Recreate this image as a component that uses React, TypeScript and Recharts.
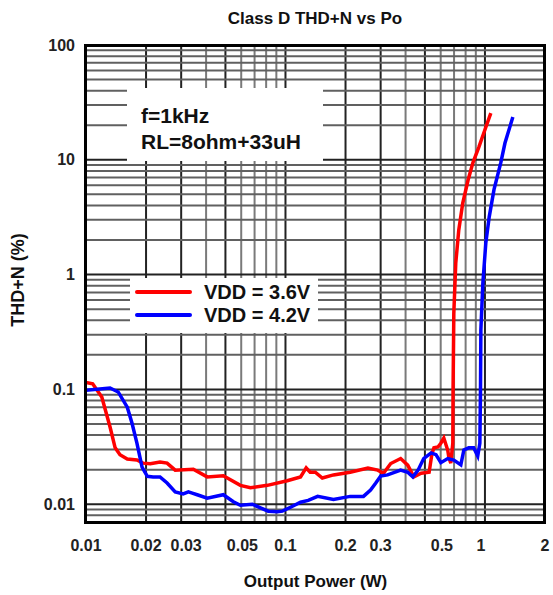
import React from 'react';
import { LineChart, Line, XAxis, YAxis, ReferenceLine, Legend } from 'recharts';

// Output power (W) / THD+N (%), VDD = 3.6V
const vdd36Power = [
  0.01, 0.0108, 0.012, 0.0132, 0.014, 0.0148, 0.0161, 0.018, 0.0193, 0.021,
  0.0235, 0.0255, 0.028, 0.0345, 0.0405, 0.0488, 0.0594, 0.0667, 0.0811, 0.102,
  0.119, 0.127, 0.133, 0.141, 0.153, 0.174, 0.211, 0.259, 0.29, 0.31,
  0.337, 0.378, 0.41, 0.44, 0.479, 0.525, 0.543, 0.555, 0.581, 0.601,
  0.622, 0.651, 0.659, 0.674, 0.69, 0.692, 0.698, 0.714, 0.739, 0.774,
  0.822, 0.87, 0.932, 1.01, 1.07,
];
const vdd36Thd = [
  0.115, 0.112, 0.086, 0.047, 0.031, 0.027, 0.0248, 0.0243, 0.0228, 0.0225,
  0.0233, 0.0228, 0.0198, 0.0202, 0.0173, 0.0177, 0.0146, 0.0139, 0.0146, 0.016,
  0.0173, 0.0207, 0.019, 0.019, 0.0169, 0.018, 0.019, 0.0207, 0.0198, 0.0186,
  0.0226, 0.025, 0.0219, 0.0173, 0.0186, 0.019, 0.0279, 0.031, 0.0315, 0.034,
  0.0377, 0.0295, 0.0256, 0.0228, 0.034, 0.1, 0.46, 1.26, 2.44, 4.2,
  6.6, 9.4, 12.9, 19.2, 25.5,
];

// VDD = 4.2V
const vdd42Power = [
  0.01, 0.0132, 0.0145, 0.0161, 0.017, 0.018, 0.0191, 0.0203, 0.0217, 0.0235,
  0.0255, 0.028, 0.0307, 0.0326, 0.0341, 0.0361, 0.0405, 0.0488, 0.0548, 0.0594,
  0.0682, 0.0749, 0.082, 0.091, 0.0965, 0.106, 0.119, 0.13, 0.145, 0.174,
  0.211, 0.246, 0.267, 0.283, 0.3, 0.325, 0.378, 0.41, 0.435, 0.462,
  0.493, 0.537, 0.568, 0.601, 0.651, 0.698, 0.757, 0.784, 0.829, 0.878,
  0.92, 0.943, 0.95, 0.954, 0.976, 1.01, 1.05, 1.11, 1.2, 1.26, 1.38,
];
const vdd42Thd = [
  0.0985, 0.103, 0.095, 0.07, 0.051, 0.034, 0.021, 0.0175, 0.0173, 0.0173,
  0.0153, 0.0128, 0.0123, 0.0128, 0.0125, 0.0121, 0.0113, 0.0121, 0.0105, 0.0098,
  0.01, 0.0093, 0.0087, 0.0086, 0.0087, 0.0094, 0.0104, 0.0108, 0.0117, 0.011,
  0.0117, 0.0117, 0.0133, 0.0152, 0.0176, 0.018, 0.0198, 0.019, 0.0173, 0.0198,
  0.025, 0.028, 0.027, 0.023, 0.025, 0.0242, 0.022, 0.0297, 0.031, 0.031,
  0.0263, 0.034, 0.1, 0.33, 0.84, 1.88, 3.17, 5.5, 9.4, 14, 23.6,
];

const xTicks = [0.01, 0.02, 0.03, 0.05, 0.1, 0.2, 0.3, 0.5, 1, 2];
const yTicks = [0.01, 0.1, 1, 10, 100];

const vdd36 = vdd36Power.map((po, i) => ({ po, thd: vdd36Thd[i] }));
const vdd42 = vdd42Power.map((po, i) => ({ po, thd: vdd42Thd[i] }));

// log grid: 1..9 in every decade
const gridValues: number[] = [];
[0.001, 0.01, 0.1, 1, 10].forEach((d) => {
  for (let m = 1; m <= 9; m++) gridValues.push(Number((m * d).toPrecision(3)));
});
gridValues.push(100);

const FONT = 'Arial, "Liberation Sans", Helvetica, sans-serif';

// the labels of 0.05 and 0.5 sit right of their grid lines in the original
const tickShift: Record<string, number> = { '0.03': 5, '0.05': 17, '0.5': 17, '1': -4 };

const XTick = (props: any) => {
  const { x, y, payload } = props;
  const dx = tickShift[String(payload.value)] ?? 0;
  return (
    <text x={x + dx} y={y} dy="0.71em" textAnchor="middle" fill="#222" fontSize={16} fontWeight="bold" fontFamily={FONT}>
      {payload.value}
    </text>
  );
};

const LegendBox = () => (
  <div style={{ width: 188, height: 55, background: '#fff', fontFamily: FONT, fontWeight: 'bold', fontSize: 20, color: '#111' }}>
    {[
      { label: 'VDD = 3.6V', color: '#ff0000' },
      { label: 'VDD = 4.2V', color: '#0000ff' },
    ].map((item, i) => (
      <div key={item.label} style={{ position: 'absolute', left: 0, top: 3 + i * 23, height: 22, display: 'flex', alignItems: 'center', whiteSpace: 'nowrap' }}>
        <svg width={70} height={22}>
          <line x1={7} y1={11} x2={60} y2={11} stroke={item.color} strokeWidth={4} strokeLinecap="round" />
        </svg>
        <span style={{ marginLeft: 4 }}>{item.label}</span>
      </div>
    ))}
  </div>
);

export default function App() {
  return (
    <div style={{ position: 'absolute', left: 0, top: 0, width: 553, height: 595, background: '#fff', fontFamily: FONT }}>
      <div style={{ position: 'absolute', left: 115, top: 9, width: 400, lineHeight: '20px', textAlign: 'center', fontSize: 17, fontWeight: 'bold', color: '#111' }}>
        Class D THD+N vs Po
      </div>
      <div style={{ position: 'absolute', left: -82, top: 270, width: 200, lineHeight: '20px', textAlign: 'center', fontSize: 18, fontWeight: 'bold', color: '#111', transform: 'rotate(-90deg)' }}>
        THD+N (%)
      </div>
      <LineChart width={553} height={595} data={vdd36} margin={{ top: 45, right: 8, bottom: 0, left: 0 }}>
        <XAxis
          dataKey="po"
          type="number"
          scale="log"
          domain={[0.01, 2]}
          allowDataOverflow
          ticks={xTicks}
          tick={<XTick />}
          tickLine={false}
          axisLine={false}
          tickSize={6}
          tickMargin={12}
          height={73}
          label={{ value: 'Output Power (W)', position: 'insideBottom', offset: 8, fill: '#111', fontSize: 17, fontWeight: 'bold', fontFamily: FONT }}
        />
        <YAxis
          dataKey="thd"
          type="number"
          scale="log"
          domain={[0.007, 100]}
          allowDataOverflow
          ticks={yTicks}
          tickFormatter={(v: number) => String(v)}
          tick={{ fill: '#222', fontSize: 16, fontWeight: 'bold', fontFamily: FONT }}
          tickLine={false}
          axisLine={false}
          tickSize={6}
          tickMargin={5}
          width={86}
        />
        {gridValues.filter((v) => v >= 0.01 && v <= 2).map((v) => (
          <ReferenceLine key={'x' + v} x={v} stroke={xTicks.includes(v) ? '#222' : '#7a7a7a'} strokeWidth={2} />
        ))}
        {gridValues.filter((v) => v >= 0.007 && v <= 100).map((v) => (
          <ReferenceLine key={'y' + v} y={v} stroke={yTicks.includes(v) ? '#222' : '#606060'} strokeWidth={2} />
        ))}
        <Legend
          layout="horizontal"
          verticalAlign="middle"
          align="center"
          content={<LegendBox />}
          wrapperStyle={{ left: 130, top: 278, width: 188, height: 55 }}
        />
        <Line data={vdd36} dataKey="thd" name="VDD = 3.6V" stroke="#ff0000" strokeWidth={3.5} dot={false} isAnimationActive={false} />
        <Line data={vdd42} dataKey="thd" name="VDD = 4.2V" stroke="#0000ff" strokeWidth={3.5} dot={false} isAnimationActive={false} />
      </LineChart>
      <div style={{ position: 'absolute', left: 127, top: 88, width: 196, height: 73, background: '#fff', boxSizing: 'border-box', padding: '15px 0 0 14px', fontSize: 21, fontWeight: 'bold', lineHeight: '26px', color: '#111', whiteSpace: 'nowrap' }}>
        <div>f=1kHz</div>
        <div>RL=8ohm+33uH</div>
      </div>
      <div style={{ position: 'absolute', left: 84, top: 44, width: 462, height: 480, border: '3px solid #000', boxSizing: 'border-box', pointerEvents: 'none' }} />
    </div>
  );
}
